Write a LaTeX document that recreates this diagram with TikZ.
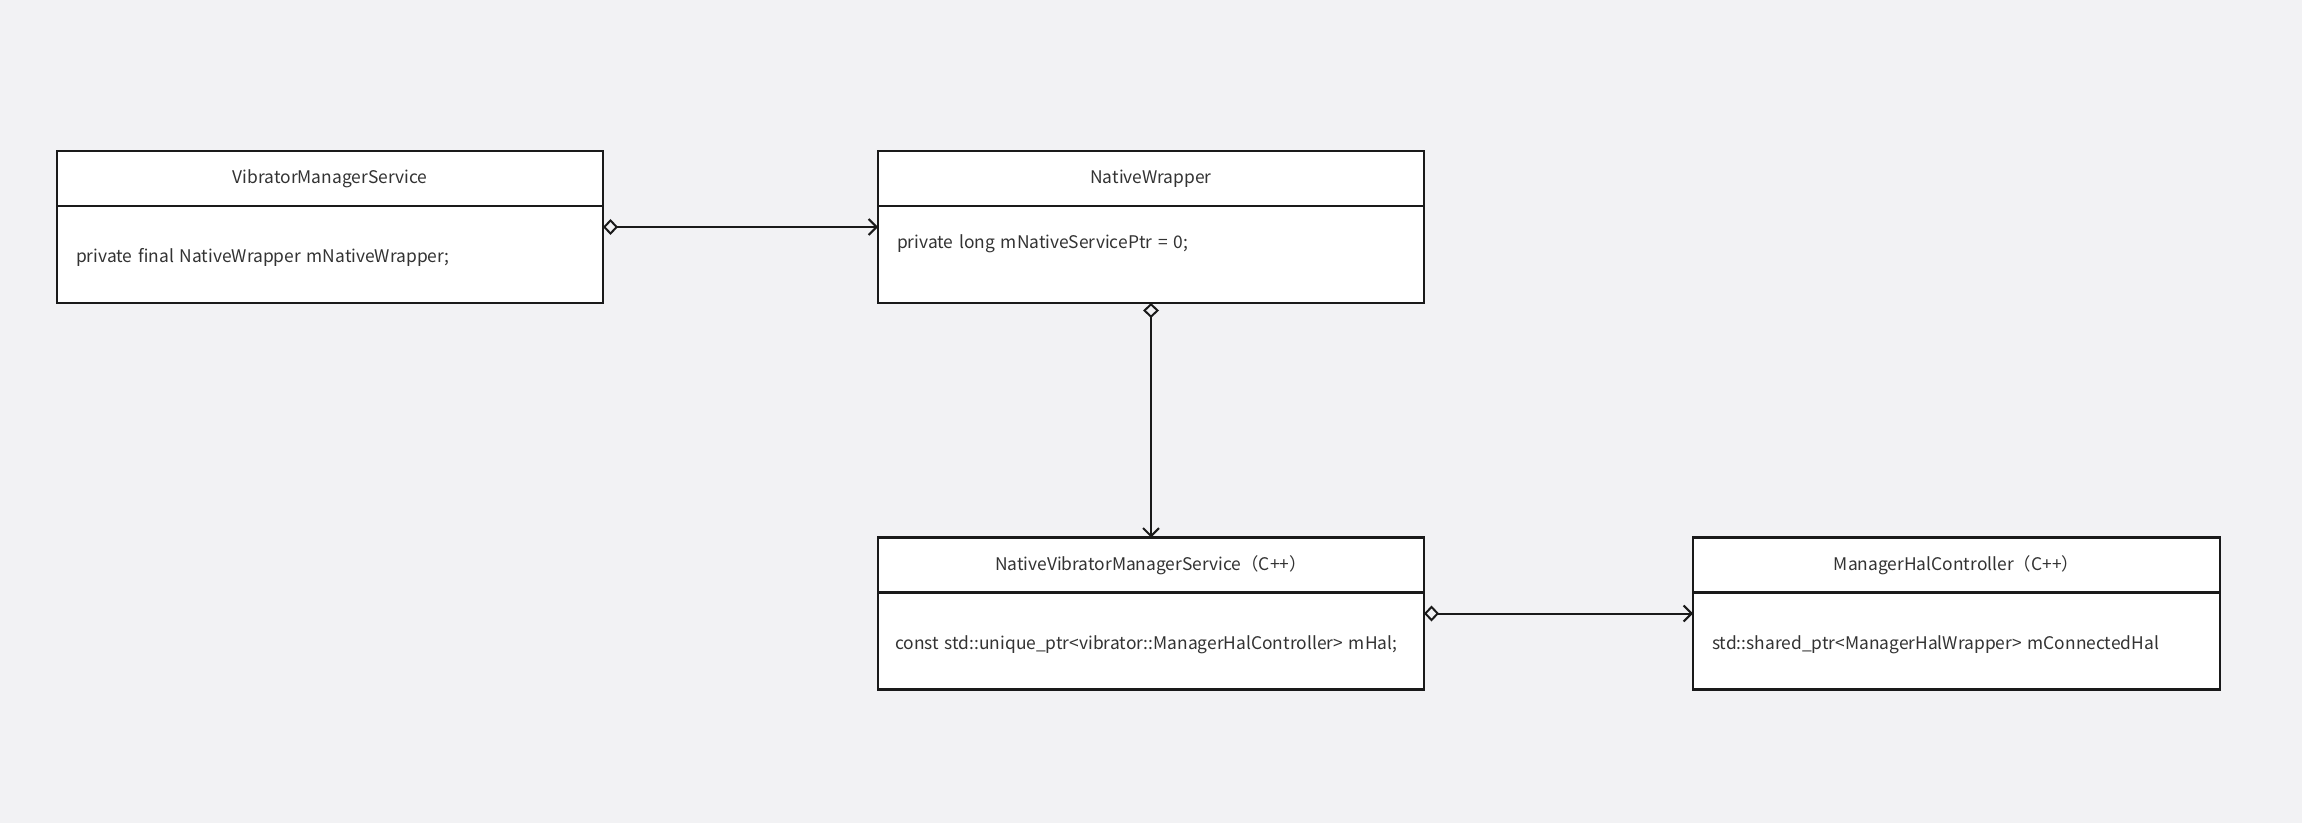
\documentclass[tikz,border=0pt]{standalone}
\usepackage{fontspec}
\setmainfont{Noto Sans CJK SC}
\usetikzlibrary{arrows.meta,positioning}

\definecolor{canvas}{RGB}{242,242,244}
\definecolor{ink}{RGB}{26,26,26}
\definecolor{txt}{RGB}{51,51,51}

\begin{document}
\begin{tikzpicture}[
  x=0.5pt, y=-0.5pt,
  head/.style={
    draw=ink,
    fill=white,
    line width=1.1pt,
    outer sep=0pt,
    minimum height=27.5pt,
    text=txt,
    font=\fontsize{8.7}{11}\selectfont
  },
  body/.style={
    draw=ink,
    fill=white,
    line width=1.1pt,
    outer sep=0pt,
    minimum height=48.5pt,
    inner xsep=9.5pt,
    align=left,
    text=txt,
    font=\fontsize{8.7}{11}\selectfont
  },
  assoc/.style={
    draw=ink,
    line width=1pt,
    {Diamond[open,length=7.5pt,width=8pt]}-{Straight Barb[length=4pt,width=8pt]}
  }
]
  \useasboundingbox[fill=canvas] (0,0) rectangle (2302,823);

  % java side
  \node[head,minimum width=273pt] (vmsHead) at (330,178.5) {VibratorManagerService};
  \node[body,text width=254pt,text height=8.5pt,text depth=0pt,below=0pt of vmsHead] (vmsBody) {private final NativeWrapper mNativeWrapper;};

  \node[head,minimum width=273pt] (nwHead) at (1151,178.5) {NativeWrapper};
  \node[body,text width=254pt,text depth=13pt,below=0pt of nwHead] (nwBody) {private long mNativeServicePtr = 0;};

  % native side
  \node[head,minimum width=273pt] (nvmsHead) at (1151,565) {NativeVibratorManagerService（C++）};
  \node[body,text width=256pt,inner xsep=8.5pt,text height=8.5pt,text depth=0pt,below=0pt of nvmsHead] (nvmsBody) {const std::unique\_ptr<vibrator::ManagerHalController> mHal;};

  \node[head,minimum width=263.5pt] (mhcHead) at (1956.5,565) {ManagerHalController（C++）};
  \node[body,text width=244.5pt,text height=8.5pt,text depth=0pt,below=0pt of mhcHead] (mhcBody) {std::shared\_ptr<ManagerHalWrapper> mConnectedHal};

  \draw[assoc] ([yshift=-10.5pt]vmsBody.north east) -- ([yshift=-10.5pt]nwBody.north west);
  \draw[assoc] (nwBody.south) -- (nvmsHead.north);
  \draw[assoc] ([yshift=-10.5pt]nvmsBody.north east) -- ([yshift=-10.5pt]mhcBody.north west);
\end{tikzpicture}
\end{document}
